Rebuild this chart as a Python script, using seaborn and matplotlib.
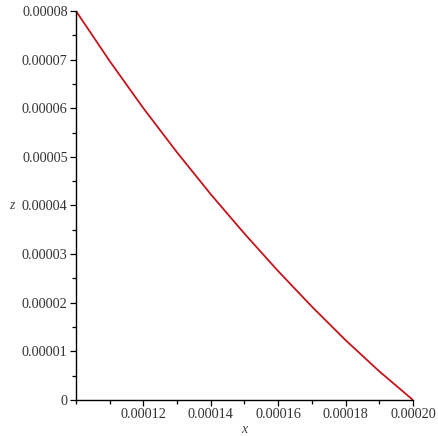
import matplotlib
matplotlib.use("Agg")
import matplotlib.pyplot as plt
import seaborn as sns
import pandas as pd
from matplotlib.ticker import FixedLocator, FixedFormatter

x_vals = [0.00010, 0.00011, 0.00012, 0.00013, 0.00014, 0.00015,
          0.00016, 0.00017, 0.00018, 0.00019, 0.00020]
z_vals = [8.0e-5, 6.97e-5, 6.00e-5, 5.09e-5, 4.23e-5, 3.42e-5,
          2.65e-5, 1.92e-5, 1.23e-5, 0.59e-5, 0.0]

x_ticks = [0.00012, 0.00014, 0.00016, 0.00018, 0.00020]
x_ticklabels = ["0.00012", "0.00014", "0.00016", "0.00018", "0.00020"]
y_ticks = [0, 0.00001, 0.00002, 0.00003, 0.00004, 0.00005, 0.00006, 0.00007, 0.00008]
y_ticklabels = ["0", "0.00001", "0.00002", "0.00003", "0.00004",
                "0.00005", "0.00006", "0.00007", "0.00008"]

sns.set_style("ticks")
plt.rcParams['font.family'] = ['Liberation Serif', 'DejaVu Serif']

df = pd.DataFrame({"x": x_vals, "z": z_vals})

fig = plt.figure(figsize=(4.38, 4.36), dpi=100)
ax = fig.add_axes([76/438, 36/436, 337/438, 389/436])
sns.lineplot(data=df, x="x", y="z", ax=ax, color="#c4141c", linewidth=1.3)

ax.set_xlim(0.0001, 0.0002)
ax.set_ylim(0, 0.00008)
ax.xaxis.set_major_locator(FixedLocator(x_ticks))
ax.xaxis.set_major_formatter(FixedFormatter(x_ticklabels))
ax.xaxis.set_minor_locator(FixedLocator([0.0001, 0.00011, 0.00013, 0.00015, 0.00017, 0.00019]))
ax.yaxis.set_major_locator(FixedLocator(y_ticks))
ax.yaxis.set_major_formatter(FixedFormatter(y_ticklabels))
ax.yaxis.set_minor_locator(FixedLocator([0.000005, 0.000015, 0.000025, 0.000035,
                                         0.000045, 0.000055, 0.000065, 0.000075]))

for side in ["top", "right"]:
    ax.spines[side].set_visible(False)
for side in ["left", "bottom"]:
    ax.spines[side].set_color("black")
    ax.spines[side].set_linewidth(1.0)

ax.tick_params(which="major", direction="out", length=4, width=0.9,
               colors="black", labelcolor="#333333", labelsize=10.3, pad=2)
ax.tick_params(which="minor", direction="out", length=3, width=0.9, colors="black")

ax.set_xlabel("x", fontstyle="italic", fontsize=10, color="#444444", labelpad=1)
ax.set_ylabel("z", fontstyle="italic", fontsize=10, color="#444444",
              rotation=0, labelpad=7, va="center")

fig.savefig("out.png", dpi=100, facecolor="white")
